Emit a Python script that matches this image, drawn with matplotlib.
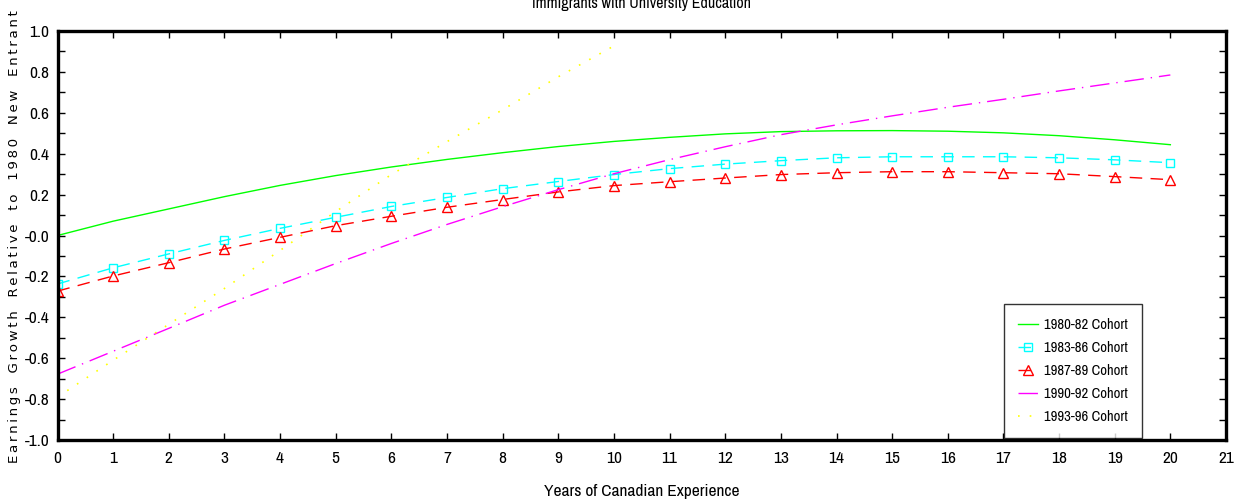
import numpy as np
import matplotlib
matplotlib.use("Agg")
import matplotlib.pyplot as plt
from matplotlib import font_manager

# years of canadian experience
years = list(range(0, 21))
years_9396 = list(range(0, 11))

# earnings growth relative to 1980 new entrant
cohort_8082 = [0.0, 0.07, 0.13, 0.19, 0.245, 0.293, 0.335, 0.372, 0.405, 0.435, 0.46,
               0.48, 0.497, 0.508, 0.512, 0.513, 0.51, 0.502, 0.488, 0.468, 0.444]
cohort_8386 = [-0.237, -0.158, -0.09, -0.024, 0.035, 0.089, 0.142, 0.186, 0.229, 0.264, 0.298,
               0.327, 0.349, 0.366, 0.38, 0.385, 0.385, 0.385, 0.38, 0.37, 0.356]
cohort_8789 = [-0.272, -0.198, -0.133, -0.066, -0.009, 0.048, 0.094, 0.138, 0.176, 0.213, 0.244,
               0.263, 0.281, 0.298, 0.307, 0.312, 0.312, 0.307, 0.302, 0.288, 0.273]
cohort_9092 = [-0.678, -0.566, -0.454, -0.341, -0.239, -0.137, -0.039, 0.054, 0.141, 0.224, 0.302,
               0.371, 0.434, 0.493, 0.541, 0.585, 0.627, 0.666, 0.707, 0.746, 0.785]
cohort_9396 = [-0.79, -0.61, -0.434, -0.259, -0.073, 0.117, 0.298, 0.459, 0.615, 0.776, 0.927]

labels = ["1980-82 Cohort", "1983-86 Cohort", "1987-89 Cohort", "1990-92 Cohort", "1993-96 Cohort"]

y_ticks = [-1.0, -0.8, -0.6, -0.4, -0.2, 0.0, 0.2, 0.4, 0.6, 0.8, 1.0]
y_ticklabels = ["-1.0", "-0.8", "-0.6", "-0.4", "-0.2", "-0.0", "0.2", "0.4", "0.6", "0.8", "1.0"]

# narrow font for the numbers and labels, first one that is installed
installed = set(f.name for f in font_manager.fontManager.ttflist)
narrow_name = "DejaVu Sans"
for n in ["Liberation Sans Narrow", "Archivo Narrow", "Roboto Condensed", "Open Sans Condensed"]:
    if n in installed:
        narrow_name = n
        break


def nfont(size):
    return font_manager.FontProperties(family=narrow_name, stretch="condensed", size=size)


fig = plt.figure(figsize=(12.39, 5.01), dpi=100)
ax = fig.add_axes([57.5 / 1239, 61 / 501, 1168.5 / 1239, 409 / 501])

ax.plot(years, cohort_8082, color="#00ff00", lw=1.0, label=labels[0])
ax.plot(years, cohort_8386, color="#00ffff", lw=1.0, ls=(0, (9, 6)), marker="s",
        ms=6, mfc="none", mec="#00ffff", mew=1.0, label=labels[1])
ax.plot(years, cohort_8789, color="#ff0000", lw=1.0, ls=(0, (9, 6)), marker="^",
        ms=7, mfc="none", mec="#ff0000", mew=1.0, label=labels[2])
ax.plot(years, cohort_9092, color="#ff00ff", lw=1.0, ls=(0, (14, 5, 1, 5)), label=labels[3])
ax.plot(years_9396, cohort_9396, color="#ffff00", lw=1.2, ls=(0, (1, 6)), label=labels[4])

ax.set_xlim(0, 21)
ax.set_ylim(-1.0, 1.0)
ax.set_xticks(range(0, 22))
ax.set_yticks(y_ticks)
ax.set_yticklabels(y_ticklabels)
ax.set_yticks(np.arange(-0.9, 1.0, 0.2), minor=True)
ax.tick_params(which="both", direction="in", top=True, right=True, length=5, width=1, pad=6)
ax.tick_params(axis="x", pad=8)
for lab in ax.get_xticklabels() + ax.get_yticklabels():
    lab.set_fontproperties(nfont(12.5))

for s in ax.spines.values():
    s.set_linewidth(2.4)

ax.set_xlabel("Years of Canadian Experience", fontproperties=nfont(12.5), labelpad=13)

# spaced out y label like the original
ylab = "\u2009".join("Earnings Growth Relative to 1980 New Entrant").replace(" ", "  ")
fig.text(15 / 1239, 1 - 237 / 501, ylab, rotation=90, ha="center", va="center", fontsize=9.6)

fig.text(642 / 1239, 1.0 + 4 / 501, "Immigrants with University Education",
         ha="center", va="top", fontproperties=nfont(11.5))

leg = ax.legend(loc="lower left", bbox_to_anchor=(0.81, 0.005), prop=nfont(10.5),
                frameon=True, fancybox=False, edgecolor="black", handlelength=1.4,
                numpoints=1, labelspacing=0.62, borderpad=0.95, handletextpad=0.4,
                borderaxespad=0.0)
leg.get_frame().set_linewidth(1.0)

plt.savefig("out.png", dpi=100)
